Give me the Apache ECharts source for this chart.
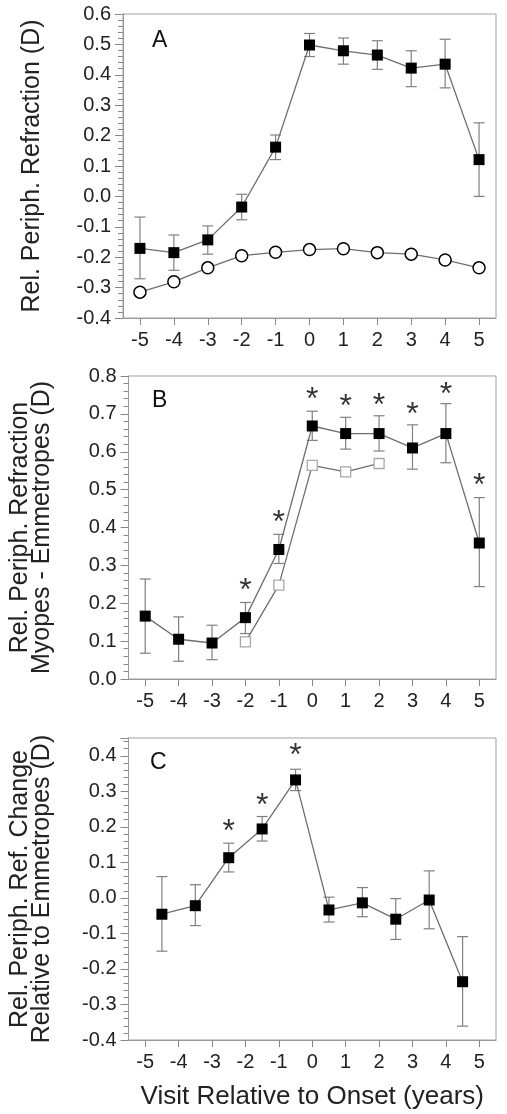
<!DOCTYPE html>
<html><head><meta charset="utf-8">
<script src="https://cdn.jsdelivr.net/npm/echarts@6/dist/echarts.min.js"></script>
<style>html,body{margin:0;padding:0;background:#fff}#c{width:507px;height:1114px}</style>
</head><body><div id="c"></div>
<script>
// ---------- data ----------
const visitsAB = [-5, -4, -3, -2, -1, 0, 1, 2, 3, 4, 5];
const visitsC = [-4.5, -3.5, -2.5, -1.5, -0.5, 0.5, 1.5, 2.5, 3.5, 4.5];
const xTickLabels = [-5, -4, -3, -2, -1, 0, 1, 2, 3, 4, 5];

// Panel A
const aMyopes   = [-0.171, -0.185, -0.143, -0.035, 0.162, 0.498, 0.479, 0.465, 0.422, 0.435, 0.121];
const aMyopesHi = [-0.068, -0.127, -0.097, 0.007, 0.202, 0.536, 0.521, 0.512, 0.479, 0.517, 0.242];
const aMyopesLo = [-0.271, -0.243, -0.190, -0.077, 0.121, 0.460, 0.435, 0.418, 0.361, 0.357, 0.000];
const aEmmetropes = [-0.315, -0.281, -0.235, -0.195, -0.184, -0.175, -0.172, -0.185, -0.190, -0.209, -0.235];

// Panel B
const bDiff   = [0.166, 0.105, 0.095, 0.162, 0.342, 0.668, 0.648, 0.648, 0.610, 0.648, 0.359];
const bDiffHi = [0.264, 0.164, 0.142, 0.202, 0.382, 0.707, 0.691, 0.695, 0.671, 0.727, 0.479];
const bDiffLo = [0.068, 0.047, 0.051, 0.120, 0.305, 0.630, 0.607, 0.602, 0.554, 0.571, 0.244];
const bAltVisits = [-2, -1, 0, 1, 2];
const bAlt = [0.098, 0.248, 0.564, 0.547, 0.569];
const bStarVisits = [-2, -1, 0, 1, 2, 3, 4, 5];
const bStarY = [0.254, 0.433, 0.756, 0.740, 0.742, 0.718, 0.771, 0.529];

// Panel C
const cChange   = [-0.046, -0.022, 0.113, 0.194, 0.332, -0.034, -0.014, -0.060, -0.006, -0.236];
const cChangeHi = [0.060, 0.037, 0.154, 0.229, 0.362, 0.002, 0.029, -0.002, 0.076, -0.109];
const cChangeLo = [-0.150, -0.078, 0.073, 0.160, 0.302, -0.068, -0.053, -0.117, -0.087, -0.361];
const cStarVisits = [-2.5, -1.5, -0.5];
const cStarY = [0.208, 0.281, 0.421];

// ---------- helpers ----------
const FONT = "'Liberation Sans', Arial, sans-serif";
const zip = (xs, ys) => xs.map((x, i) => [x, ys[i]]);
const zip3 = (xs, a, b) => xs.map((x, i) => [x, a[i], b[i]]);

const gridDefs = [
  {left: 123, top: 14, width: 373, height: 304},
  {left: 123, top: 376, width: 373, height: 303},
  {left: 123, top: 738, width: 373, height: 302}
];

function xAxisDef(gi, withName) {
  const ax = {
    type: 'value', gridIndex: gi, min: -5.5, max: 5.5,
    axisLine: {show: true, onZero: false, lineStyle: {color: '#999', width: 1}},
    axisTick: {show: true, customValues: xTickLabels, length: 7, lineStyle: {color: '#888'}},
    axisLabel: {customValues: xTickLabels, fontSize: 20, color: '#222', margin: 12, fontFamily: FONT},
    splitLine: {show: false}
  };
  if (withName) {
    ax.name = 'Visit Relative to Onset (years)';
    ax.nameLocation = 'middle';
    ax.nameGap = 44;
    ax.nameTextStyle = {fontSize: 26, color: '#222', fontFamily: FONT};
  }
  return ax;
}

function yAxisDef(gi, min, max, name, gap, hideMax) {
  return {
    type: 'value', gridIndex: gi, min: min, max: max, interval: 0.1,
    axisLine: {show: true, onZero: false, lineStyle: {color: '#999', width: 1}},
    axisTick: {show: true, length: 8, lineStyle: {color: '#888'}},
    minorTick: {show: true, splitNumber: 5, length: 5, lineStyle: {color: '#888'}},
    axisLabel: {fontSize: 20, color: '#222', margin: 12, fontFamily: FONT,
      showMaxLabel: !hideMax, formatter: v => v.toFixed(1)},
    splitLine: {show: false}, minorSplitLine: {show: false},
    name: name, nameLocation: 'middle', nameGap: gap, nameRotate: 90,
    nameTextStyle: {fontSize: 25, color: '#222', fontFamily: FONT, lineHeight: 22}
  };
}

function errBars(gi, data) {
  return {
    type: 'custom', xAxisIndex: gi, yAxisIndex: gi, z: 1,
    data: data,
    encode: {x: 0, y: [1, 2]},
    renderItem: function (params, api) {
      const x = api.value(0);
      const p1 = api.coord([x, api.value(1)]);
      const p2 = api.coord([x, api.value(2)]);
      const w = 5.5;
      const st = {stroke: '#808080', lineWidth: 1.2};
      return {type: 'group', children: [
        {type: 'line', shape: {x1: p1[0], y1: p1[1], x2: p2[0], y2: p2[1]}, style: st},
        {type: 'line', shape: {x1: p1[0] - w, y1: p1[1], x2: p1[0] + w, y2: p1[1]}, style: st},
        {type: 'line', shape: {x1: p2[0] - w, y1: p2[1], x2: p2[0] + w, y2: p2[1]}, style: st}
      ]};
    }
  };
}

function lineSeries(gi, data, symbol, size, itemStyle, z) {
  return {
    type: 'line', xAxisIndex: gi, yAxisIndex: gi, data: data,
    symbol: symbol, symbolSize: size, showAllSymbol: true,
    lineStyle: {color: '#6e6e6e', width: 1.3},
    itemStyle: itemStyle, z: z || 3, animation: false
  };
}

function stars(gi, data) {
  return {
    type: 'scatter', xAxisIndex: gi, yAxisIndex: gi, data: data,
    symbol: 'circle', symbolSize: 2, itemStyle: {color: 'rgba(0,0,0,0)'}, z: 5,
    label: {show: true, position: 'inside', formatter: '*', fontSize: 32,
      color: '#000', fontFamily: FONT, offset: [0, 8]}
  };
}

const option = {
  backgroundColor: '#fff',
  animation: false,
  grid: gridDefs.map(g => Object.assign({show: true, borderColor: '#a0a0a0', borderWidth: 1, backgroundColor: 'transparent'}, g)),
  xAxis: [xAxisDef(0, false), xAxisDef(1, false), xAxisDef(2, true)],
  yAxis: [
    yAxisDef(0, -0.4, 0.6, 'Rel. Periph. Refraction (D)', 80, false),
    yAxisDef(1, 0, 0.8, 'Rel. Periph. Refraction\nMyopes - Emmetropes (D)', 75, false),
    yAxisDef(2, -0.4, 0.45, 'Rel. Periph. Ref. Change\nRelative to Emmetropes (D)', 75, true)
  ],
  graphic: [
    {type: 'text', left: 152, top: 29, style: {text: 'A', fontSize: 23, fill: '#111', fontFamily: FONT}},
    {type: 'text', left: 152, top: 389, style: {text: 'B', fontSize: 23, fill: '#111', fontFamily: FONT}},
    {type: 'text', left: 150, top: 751, style: {text: 'C', fontSize: 23, fill: '#111', fontFamily: FONT}}
  ],
  series: [
    // A
    errBars(0, zip3(visitsAB, aMyopesLo, aMyopesHi)),
    lineSeries(0, zip(visitsAB, aEmmetropes), 'circle', 12, {color: '#fff', borderColor: '#000', borderWidth: 1.5}),
    lineSeries(0, zip(visitsAB, aMyopes), 'rect', 11, {color: '#000', borderColor: '#000', borderWidth: 0}, 4),
    // B
    lineSeries(1, zip(bAltVisits, bAlt), 'rect', 10, {color: '#fff', borderColor: '#a8a8a8', borderWidth: 1.3}),
    errBars(1, zip3(visitsAB, bDiffLo, bDiffHi)),
    lineSeries(1, zip(visitsAB, bDiff), 'rect', 11, {color: '#000', borderColor: '#000', borderWidth: 0}, 4),
    stars(1, zip(bStarVisits, bStarY)),
    // C
    errBars(2, zip3(visitsC, cChangeLo, cChangeHi)),
    lineSeries(2, zip(visitsC, cChange), 'rect', 11, {color: '#000', borderColor: '#000', borderWidth: 0}, 4),
    stars(2, zip(cStarVisits, cStarY))
  ]
};

const chart = echarts.init(document.getElementById('c'), null, {renderer: 'canvas'});
chart.setOption(option);
</script>
</body></html>
